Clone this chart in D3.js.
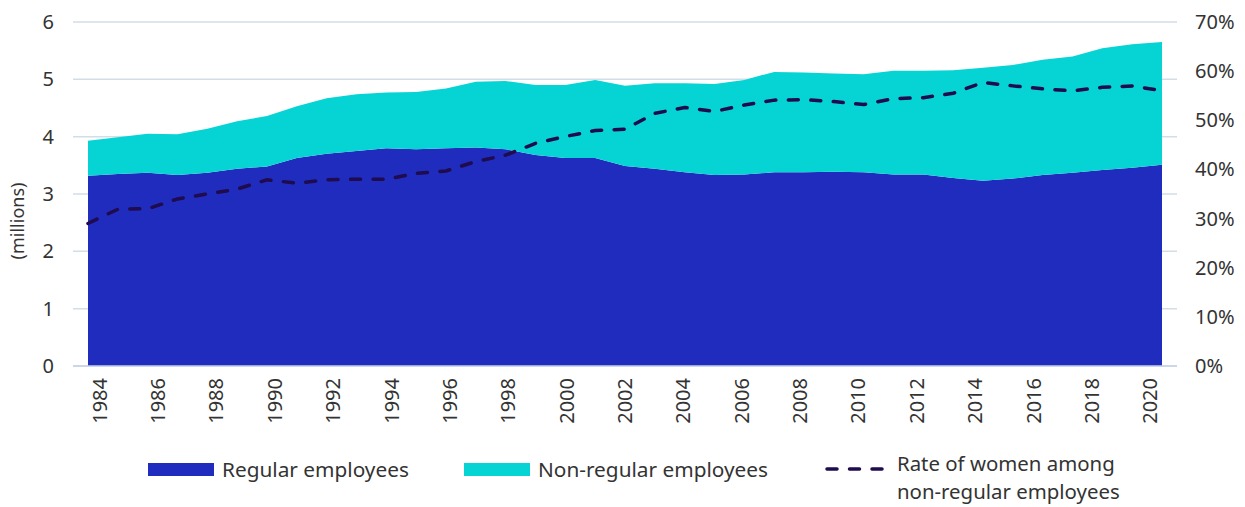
<!DOCTYPE html>
<html>
<head>
<meta charset="utf-8">
<script src="https://cdn.jsdelivr.net/npm/d3@7/dist/d3.min.js"></script>
<style>
  html, body { margin: 0; padding: 0; background: #fff; }
  svg text { font-family: "Noto Sans", "Open Sans", sans-serif; fill: #333; }
</style>
</head>
<body>
<svg id="chart" width="1245" height="507"></svg>
<script>
const years = [1984,1985,1986,1987,1988,1989,1990,1991,1992,1993,
               1994,1995,1996,1997,1998,1999,2000,2001,2002,2003,
               2004,2005,2006,2007,2008,2009,2010,2011,2012,2013,
               2014,2015,2016,2017,2018,2019,2020];
const regular = [3.32,3.35,3.37,3.33,3.37,3.44,3.48,3.63,3.70,3.75,
                 3.80,3.78,3.80,3.81,3.78,3.68,3.63,3.63,3.49,3.44,
                 3.38,3.33,3.34,3.38,3.38,3.39,3.38,3.34,3.34,3.28,
                 3.23,3.27,3.33,3.37,3.42,3.46,3.51];
const nonRegular = [0.61,0.64,0.68,0.71,0.77,0.83,0.88,0.90,0.97,0.99,
                    0.97,1.00,1.04,1.15,1.19,1.22,1.27,1.36,1.40,1.49,
                    1.55,1.59,1.65,1.75,1.74,1.71,1.71,1.81,1.81,1.88,
                    1.97,1.98,2.01,2.03,2.12,2.15,2.14];
const womenRate = [29.0,31.9,32.0,34.0,35.0,36.0,37.9,37.2,37.9,38.0,
                   38.0,39.2,39.7,41.6,42.9,45.3,46.7,47.9,48.2,51.4,
                   52.6,51.8,53.1,54.1,54.2,53.8,53.2,54.4,54.6,55.5,
                   57.7,57.0,56.4,56.0,56.7,57.0,56.0];
const leftTicks = [0,1,2,3,4,5,6];
const rightTicks = [0,10,20,30,40,50,60,70];
const yearLabels = years.filter(y => y % 2 === 0);
const seriesNames = ["Regular employees", "Non-regular employees"];
const lineName = ["Rate of women among", "non-regular employees"];
const colors = { regular: "#1f2cbd", nonRegular: "#06d3d3", line: "#1f0b4d", grid: "#d3dde8" };

const svg = d3.select("#chart");
const plot = { left: 88, right: 1162, top: 22, bottom: 366 };

const x = d3.scaleLinear().domain([1984, 2020]).range([plot.left, plot.right]);
const xLab = d3.scalePoint().domain(years).range([plot.left, plot.right]).padding(0.4);
const y = d3.scaleLinear().domain([0, 6]).range([plot.bottom, plot.top]);
const yR = d3.scaleLinear().domain([0, 70]).range([plot.bottom, plot.top]);

// gridlines
svg.append("g").selectAll("line").data(leftTicks).join("line")
  .attr("x1", 73).attr("x2", 1177)
  .attr("y1", d => y(d)).attr("y2", d => y(d))
  .attr("stroke", colors.grid).attr("stroke-width", 1.5);

// stacked areas
const table = years.map((yr, i) => ({ year: yr, regular: regular[i], nonRegular: nonRegular[i] }));
const stack = d3.stack().keys(["regular", "nonRegular"])(table);
const area = d3.area().x(d => x(d.data.year)).y0(d => y(d[0])).y1(d => y(d[1]));
svg.append("g").selectAll("path").data(stack).join("path")
  .attr("d", area)
  .attr("fill", d => colors[d.key]);

// baseline
svg.append("line").attr("x1", 73).attr("x2", 1177)
  .attr("y1", y(0)).attr("y2", y(0))
  .attr("stroke", "#c5d2e6").attr("stroke-width", 1.5);

// dashed line
const line = d3.line().x((d, i) => x(years[i])).y(d => yR(d));
svg.append("path").datum(womenRate)
  .attr("d", line)
  .attr("fill", "none").attr("stroke", colors.line)
  .attr("stroke-width", 3.5).attr("stroke-linecap", "round")
  .attr("stroke-dasharray", "10 12.5");

// left axis labels
svg.append("g").selectAll("text").data(leftTicks).join("text")
  .attr("x", 54).attr("y", d => y(d)).attr("dy", "0.35em")
  .attr("text-anchor", "end").style("font-size", "20px")
  .text(d => d);

// right axis labels
svg.append("g").selectAll("text").data(rightTicks).join("text")
  .attr("x", 1195).attr("y", d => yR(d)).attr("dy", "0.35em")
  .attr("text-anchor", "start").style("font-size", "20px")
  .text(d => d + "%");

// x labels
svg.append("g").selectAll("text").data(yearLabels).join("text")
  .attr("transform", d => `translate(${xLab(d)},378) rotate(-90)`)
  .attr("dy", "0.35em").attr("text-anchor", "end").style("font-size", "20px")
  .text(d => d);

// y title
svg.append("text")
  .attr("transform", "translate(18,221) rotate(-90)")
  .attr("dy", "0.35em").attr("text-anchor", "middle").style("font-size", "18px")
  .text("(millions)");

// legend
const lg = svg.append("g");
lg.append("rect").attr("x", 148).attr("y", 463).attr("width", 66).attr("height", 13).attr("fill", colors.regular);
lg.append("text").attr("x", 222).attr("y", 470).attr("dy", "0.35em").style("font-size", "20.8px").text(seriesNames[0]);
lg.append("rect").attr("x", 464).attr("y", 463).attr("width", 66).attr("height", 13).attr("fill", colors.nonRegular);
lg.append("text").attr("x", 538).attr("y", 470).attr("dy", "0.35em").style("font-size", "20.8px").text(seriesNames[1]);
lg.append("line").attr("x1", 827).attr("x2", 886).attr("y1", 469).attr("y2", 469)
  .attr("stroke", colors.line).attr("stroke-width", 3.5).attr("stroke-linecap", "round")
  .attr("stroke-dasharray", "10 12.5");
const lt = lg.append("text").attr("x", 897).attr("y", 471).style("font-size", "20.4px");
lt.selectAll("tspan").data(lineName).join("tspan")
  .attr("x", 897).attr("dy", (d, i) => i === 0 ? 0 : 28)
  .text(d => d);
</script>
</body>
</html>
